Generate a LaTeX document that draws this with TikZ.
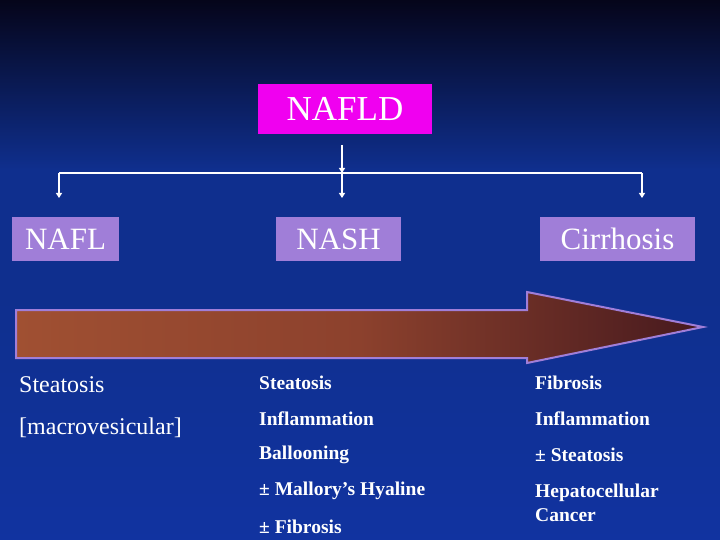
\documentclass[tikz,border=0pt]{standalone}
\usepackage{fontspec}
\setmainfont{Liberation Serif}
\usetikzlibrary{arrows.meta}
\definecolor{bgtop}{HTML}{05051A}
\definecolor{bgmid}{HTML}{0F2F8E}
\definecolor{bgbot}{HTML}{1133A0}
\definecolor{lav}{HTML}{A07ED8}
\definecolor{mag}{HTML}{F000F0}
\tikzset{
  box/.style={fill=lav, text=white, inner sep=0pt, font=\fontsize{31}{34}\selectfont},
  conn/.style={white, line width=2.4pt},
  arr/.style={conn, -{Triangle[length=5pt,width=6pt]}},
  txt/.style={anchor=west, text=white, inner sep=0pt, font=\fontsize{24}{26}\selectfont},
  btxt/.style={anchor=west, text=white, inner sep=0pt, font=\bfseries\fontsize{19.5}{24}\selectfont, align=left},
}
\begin{document}
\begin{tikzpicture}[x=1pt,y=-1pt]
\useasboundingbox (0,0) rectangle (720,540);
\shade[top color=bgtop, bottom color=bgmid] (0,0) rectangle (720,170);
\fill[bgmid] (0,169) rectangle (720,300);
\shade[top color=bgmid, bottom color=bgbot] (0,299) rectangle (720,540);
\node[box, fill=mag, minimum width=174pt, minimum height=50pt, font=\fontsize{35}{38}\selectfont] (nafld) at (345,109) {NAFLD};
\node[box, minimum width=107pt, minimum height=44pt] (nafl) at (65.5,239) {NAFL};
\node[box, minimum width=125pt, minimum height=44pt] (nash) at (338.5,239) {NASH};
\node[box, minimum width=155pt, minimum height=44pt] (cirr) at (617.5,239) {Cirrhosis};
\coordinate (j) at (342,173);
\coordinate (jl) at (59,173);
\coordinate (jr) at (642,173);
\draw[arr] (342,145) -- (j);
\draw[conn] (jl) -- (jr);
\draw[arr] (jl) -- (59,198);
\draw[arr] (j) -- (342,198);
\draw[arr] (jr) -- (642,198);
\shade[left color={rgb,255:red,160;green,80;blue,50}, right color={rgb,255:red,70;green,25;blue,30}, middle color={rgb,255:red,140;green,65;blue,45}, draw=lav, line width=2pt]
  (16,310) -- (527,310) -- (527,292) -- (703,327) -- (527,363) -- (527,358) -- (16,358) -- cycle;
\node[txt] (a1) at (19,385) {Steatosis};
\node[txt] (a2) at (19,428) {[macrovesicular]};
\node[btxt] (b1) at (259,383) {Steatosis};
\node[btxt] (b2) at (259,419) {Inflammation};
\node[btxt] (b3) at (259,455) {Ballooning};
\node[btxt] (b4) at (259,491) {± Mallory’s Hyaline};
\node[btxt] (b5) at (259,527) {± Fibrosis};
\node[btxt] (c1) at (535,383) {Fibrosis};
\node[btxt] (c2) at (535,419) {Inflammation};
\node[btxt] (c3) at (535,455) {± Steatosis};
\node[btxt] (c4) at (535,503) {Hepatocellular\\Cancer};
\end{tikzpicture}
\end{document}
